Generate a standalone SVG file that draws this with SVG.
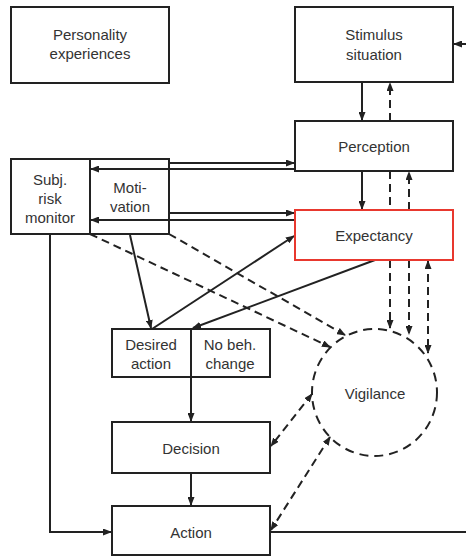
<svg xmlns="http://www.w3.org/2000/svg" width="466" height="557" viewBox="0 0 466 557">
<style>
.box{fill:#fff;stroke:#222;stroke-width:2}
.red{fill:#fff;stroke:#e8382e;stroke-width:2}
.t{font-family:"Liberation Sans",Arial,sans-serif;font-size:15px;fill:#333;text-anchor:middle}
.l{fill:none;stroke:#222;stroke-width:2}
.d{fill:none;stroke:#222;stroke-width:2;stroke-dasharray:8,5}
</style>
<defs>
<marker id="ah" markerUnits="userSpaceOnUse" markerWidth="9" markerHeight="7" refX="8" refY="3.5" orient="auto-start-reverse">
<path d="M0,0 L9,3.5 L0,7 z" fill="#222"/>
</marker>
</defs>
<g id="connectors">
<line class="l" x1="362" y1="82" x2="362" y2="120" marker-end="url(#ah)"/>
<line class="d" x1="390" y1="121" x2="390" y2="83" marker-end="url(#ah)"/>
<line class="l" x1="466" y1="44" x2="454" y2="44" marker-end="url(#ah)"/>
<line class="l" x1="362" y1="171" x2="362" y2="209" marker-end="url(#ah)"/>
<line class="d" x1="390" y1="171" x2="390" y2="210"/>
<line class="d" x1="409" y1="210" x2="409" y2="172" marker-end="url(#ah)"/>
<line class="d" x1="390" y1="260" x2="390" y2="328" marker-end="url(#ah)"/>
<line class="d" x1="409" y1="260" x2="409" y2="334" marker-end="url(#ah)"/>
<line class="d" x1="428" y1="261" x2="428" y2="353" marker-start="url(#ah)" marker-end="url(#ah)"/>
<line class="l" x1="169" y1="163" x2="294" y2="163" marker-end="url(#ah)"/>
<line class="l" x1="295" y1="169" x2="91" y2="169" marker-end="url(#ah)"/>
<line class="l" x1="169" y1="213" x2="294" y2="213" marker-end="url(#ah)"/>
<line class="l" x1="295" y1="220" x2="91" y2="220" marker-end="url(#ah)"/>
<line class="d" x1="169" y1="234" x2="345" y2="335" marker-end="url(#ah)"/>
<line class="d" x1="90" y1="234" x2="330" y2="347" marker-end="url(#ah)"/>
<line class="l" x1="130" y1="235" x2="151" y2="328" marker-end="url(#ah)"/>
<line class="l" x1="152" y1="329" x2="294" y2="236" marker-end="url(#ah)"/>
<line class="l" x1="375" y1="260" x2="193" y2="328" marker-end="url(#ah)"/>
<line class="l" x1="191" y1="377" x2="191" y2="421" marker-end="url(#ah)"/>
<line class="l" x1="191" y1="473" x2="191" y2="505" marker-end="url(#ah)"/>
<polyline class="l" points="50,234 50,532 111,532" marker-end="url(#ah)"/>
<line class="l" x1="270" y1="532" x2="466" y2="532"/>
<line class="d" x1="312" y1="394" x2="271" y2="446" marker-start="url(#ah)" marker-end="url(#ah)"/>
<line class="d" x1="330" y1="437" x2="271" y2="530" marker-start="url(#ah)" marker-end="url(#ah)"/>
</g>
<g id="personality">
<rect class="box" x="11" y="7" width="158" height="76"/>
<text class="t" x="90" y="40">Personality</text>
<text class="t" x="90" y="59">experiences</text>
</g>
<g id="stimulus">
<rect class="box" x="295" y="7" width="158" height="75"/>
<text class="t" x="374" y="40">Stimulus</text>
<text class="t" x="374" y="60">situation</text>
</g>
<g id="perception">
<rect class="box" x="295" y="121" width="158" height="50"/>
<text class="t" x="374" y="152">Perception</text>
</g>
<g id="expectancy">
<rect class="red" x="295" y="210" width="158" height="50"/>
<text class="t" x="374" y="241">Expectancy</text>
</g>
<g id="subj-risk-monitor">
<rect class="box" x="11" y="159" width="79" height="75"/>
<text class="t" x="50" y="185">Subj.</text>
<text class="t" x="50" y="204">risk</text>
<text class="t" x="50" y="223">monitor</text>
</g>
<g id="motivation">
<rect class="box" x="90" y="159" width="79" height="75" fill-opacity="0"/>
<text class="t" x="130" y="193">Moti-</text>
<text class="t" x="130" y="212">vation</text>
</g>
<g id="desired-action">
<rect class="box" x="112" y="329" width="79" height="48"/>
<text class="t" x="151" y="350">Desired</text>
<text class="t" x="151" y="369">action</text>
</g>
<g id="no-beh-change">
<rect class="box" x="191" y="329" width="79" height="48"/>
<text class="t" x="230" y="350">No beh.</text>
<text class="t" x="230" y="369">change</text>
</g>
<g id="decision">
<rect class="box" x="112" y="422" width="158" height="51"/>
<text class="t" x="191" y="454">Decision</text>
</g>
<g id="action">
<rect class="box" x="112" y="506" width="158" height="49"/>
<text class="t" x="191" y="538">Action</text>
</g>
<g id="vigilance">
<ellipse cx="374.5" cy="392.5" rx="62.5" ry="63.5" fill="none" stroke="#222" stroke-width="2" stroke-dasharray="9,6"/>
<text class="t" x="375" y="399">Vigilance</text>
</g>
</svg>
